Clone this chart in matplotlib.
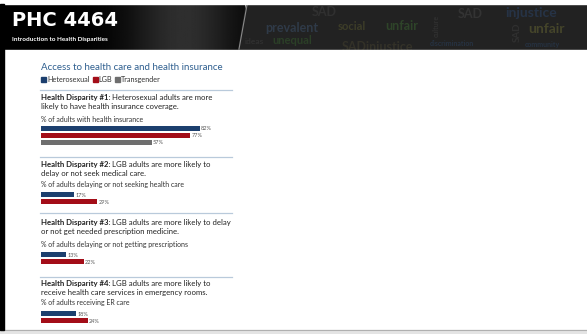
import matplotlib.pyplot as plt
import matplotlib.patches as mpatches
import numpy as np

plt.rcParams['font.family'] = ['Lato', 'DejaVu Sans']

############################# Data #############################

groups = ['Heterosexual', 'LGB', 'Transgender']
group_colors = ['#1c3f6e', '#a30d18', '#6e6e6e']

insurance_pct = [82, 77, 57]
delay_care_pct = [17, 29]
delay_rx_pct = [13, 22]
er_care_pct = [18, 24]

headings = [
    ('Health Disparity #1:', ' Heterosexual adults are more',
     'likely to have health insurance coverage.'),
    ('Health Disparity #2:', ' LGB adults are more likely to',
     'delay or not seek medical care.'),
    ('Health Disparity #3:', ' LGB adults are more likely to delay',
     'or not get needed prescription medicine.'),
    ('Health Disparity #4:', ' LGB adults are more likely to',
     'receive health care services in emergency rooms.'),
]
subtitles = [
    '% of adults with health insurance',
    '% of adults delaying or not seeking health care',
    '% of adults delaying or not getting prescriptions',
    '% of adults receiving ER care',
]
series = [insurance_pct, delay_care_pct, delay_rx_pct, er_care_pct]

############################# Layout (pixels) #############################

W, H = 587, 334
fig = plt.figure(figsize=(W / 100, H / 100), dpi=100)
bg = fig.add_axes([0, 0, 1, 1])
bg.set_xlim(0, W)
bg.set_ylim(H, 0)
bg.axis('off')

# header band with a soft gradient
grad = np.linspace(0, 1, 256)
grad = np.exp(-((grad - 0.75) ** 2) / 0.05) * 0.55
bg.imshow(grad[np.newaxis, :], extent=[0, 245, 50, 4], cmap='gray',
          vmin=0, vmax=3.0, aspect='auto', zorder=1)
bg.add_patch(mpatches.Polygon([[246, 4], [W, 4], [W, 50], [238, 50]],
                              closed=True, color='#222222', zorder=2))
bg.plot([247, 239], [5, 49], color='#8a8a8a', lw=0.8, zorder=3)

# word cloud in the header (very dim texture)
cloud = [
    ('prevalent', 265, 28, '#2f3a48', 9, 0), ('social', 338, 26, '#3d3d28', 8, 0),
    ('unfair', 385, 26, '#2e4429', 9, 0), ('SAD', 312, 12, '#303030', 9, 0),
    ('SAD', 458, 14, '#333333', 9, 0), ('injustice', 505, 13, '#263346', 10, 0),
    ('unfair', 528, 29, '#45452a', 10, 0), ('SAD', 513, 32, '#303030', 7, 90),
    ('unequal', 272, 41, '#2b3f27', 8, 0), ('culture', 433, 26, '#303030', 5, 90),
    ('SADinjustice', 342, 47, '#333128', 9, 0), ('ideas', 245, 42, '#303030', 6, 0),
    ('discrimination', 430, 44, '#263242', 5, 0), ('community', 525, 45, '#263242', 5, 0),
]
for word, x, y, c, fs, rot in cloud:
    bg.text(x, y, word, color=c, fontsize=fs, fontweight='bold', rotation=rot,
            va='center', ha='left', zorder=4)
# keep the texture inside the header band
bg.add_patch(mpatches.Rectangle((0, 0), W, 4, color='white', zorder=4.5))
bg.add_patch(mpatches.Rectangle((4, 50), W, 8, color='white', zorder=4.5))

bg.text(12, 20, 'PHC 4464', color='white', fontsize=14, fontweight='bold',
        family='DejaVu Sans', va='center', zorder=5)
bg.text(12, 40, 'Introduction to Health Disparities', color='white',
        fontsize=4.6, fontweight='bold', va='center', zorder=5)

# page frame
bg.add_patch(mpatches.Rectangle((0, 4), 4, 326, color='black', zorder=5))
bg.add_patch(mpatches.Rectangle((0, 330), W, 4, color='#e4e4e4', zorder=2))
bg.plot([0, W], [330, 330], color='#b0b0b0', lw=0.8, zorder=3)

# title and legend
bg.text(41, 67, 'Access to health care and health insurance', color='#2f5f8f',
        fontsize=7, va='center')
lx = 41
for name, col in zip(groups, group_colors):
    bg.add_patch(mpatches.Rectangle((lx, 76.5), 5, 5, color=col))
    t = bg.text(lx + 6, 79.2, name, fontsize=5.2, color='#333333', va='center')
    fig.canvas.draw()
    bb = t.get_window_extent().transformed(bg.transData.inverted())
    lx = bb.x1 + 3

# section text positions
rule_y = [90, 157, 213, 277]
head_y = [97.5, 165, 222.3, 283.3]
sub_y = [120, 185, 245, 303]
bar_top = [125, 191.2, 251.3, 310.3]
step_px = 7

for k in range(4):
    bg.plot([40, 232], [rule_y[k], rule_y[k]], color='#b9cadb', lw=0.9)
    bold, rest, line2 = headings[k]
    tb = bg.text(41, head_y[k], bold, fontsize=5.6, fontweight='bold',
                 color='#222222', va='center')
    bg.annotate(rest, xy=(1, 0.5), xycoords=tb, fontsize=5.6, color='#222222',
                va='center', ha='left')
    bg.text(41, head_y[k] + 8.8, line2, fontsize=5.6, color='#222222', va='center')
    bg.text(41, sub_y[k], subtitles[k], fontsize=5.0, color='#333333', va='center')

    vals = series[k]
    n = len(vals)
    ax = fig.add_axes([41 / W, 1 - (bar_top[k] + n * step_px) / H,
                       194 / W, n * step_px / H])
    ax.barh(range(n), vals, height=0.72, color=group_colors[:n])
    for i, v in enumerate(vals):
        ax.text(v + 0.6, i + 0.05, f'{v}%', fontsize=4, color='#555555', va='center')
    ax.set_xlim(0, 100)
    ax.set_ylim(n - 0.5, -0.5)
    ax.axis('off')

fig.savefig('out.png', dpi=100)
